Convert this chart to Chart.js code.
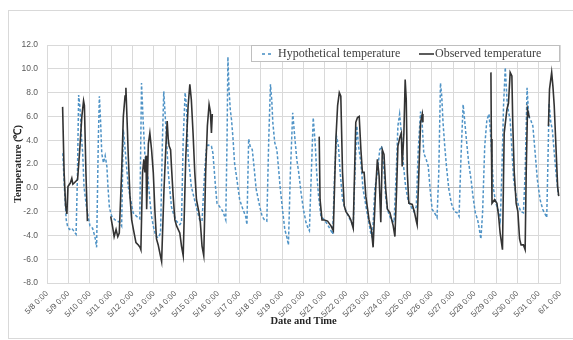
<!DOCTYPE html>
<html>
<head>
<meta charset="utf-8">
<script src="https://cdn.jsdelivr.net/npm/chart.js@4.4.1/dist/chart.umd.min.js"></script>
<style>
  html, body { margin: 0; padding: 0; background: #fff; overflow: hidden; }
  #wrap { position: relative; width: 573px; height: 340px; overflow: hidden; }
  #frame { position: absolute; left: 8px; top: 10px; width: 570px; height: 329px; border: 1px solid #d9d9d9; box-sizing: border-box; }
  canvas { position: absolute; left: 0; top: 0; }
</style>
</head>
<body>
<div id="wrap">
  <div id="frame"></div>
  <canvas id="chart" width="573" height="340"></canvas>
</div>
<script>
// x positions are days counted from 5/8 0:00
const tickLabels = ['5/8 0:00', '5/9 0:00', '5/10 0:00', '5/11 0:00', '5/12 0:00', '5/13 0:00',
    '5/14 0:00', '5/15 0:00', '5/16 0:00', '5/17 0:00', '5/18 0:00', '5/19 0:00', '5/20 0:00',
    '5/21 0:00', '5/22 0:00', '5/23 0:00', '5/24 0:00', '5/25 0:00', '5/26 0:00', '5/27 0:00',
    '5/28 0:00', '5/29 0:00', '5/30 0:00', '5/31 0:00', '6/1 0:00'];

const hypoDays = [
    0.74, 0.81, 0.90, 0.96, 1.05, 1.16, 1.24, 1.36, 1.42, 1.48, 1.54, 1.62, 1.67, 1.73, 1.86,
    2.01, 2.13, 2.24, 2.32, 2.40, 2.45, 2.51, 2.56, 2.64, 2.72, 2.80, 2.85, 2.92,
    3.03, 3.18, 3.29, 3.41, 3.49, 3.57, 3.64, 3.72, 3.80, 3.88,
    4.03, 4.19, 4.34, 4.42, 4.50, 4.58, 4.65, 4.73, 4.81, 4.89, 4.97,
    5.05, 5.12, 5.20, 5.31, 5.40, 5.46, 5.52, 5.59, 5.67, 5.82, 5.90,
    6.05, 6.21, 6.29, 6.37, 6.46, 6.52, 6.60, 6.75, 6.98,
    7.14, 7.25, 7.37, 7.45, 7.53, 7.69, 7.76, 7.88, 7.95,
    8.08, 8.23, 8.36, 8.42, 8.46, 8.51, 8.57, 8.63, 8.70, 8.77, 8.88,
    9.01, 9.16, 9.29, 9.35, 9.43, 9.50, 9.60, 9.68, 9.78, 9.94,
    10.06, 10.17, 10.28, 10.37, 10.45, 10.51, 10.56, 10.65, 10.75, 10.82, 10.90,
    11.03, 11.12, 11.21, 11.29, 11.38, 11.49, 11.57, 11.68, 11.77, 11.88, 11.99,
    12.11, 12.21, 12.27, 12.36, 12.45, 12.55, 12.61, 12.70, 12.81, 12.97,
    13.12, 13.28, 13.36, 13.45, 13.54, 13.63, 13.71, 13.82, 13.95,
    14.10, 14.21, 14.32, 14.40, 14.49, 14.57, 14.68, 14.78, 14.91,
    15.03, 15.14, 15.22, 15.33, 15.45, 15.56, 15.65, 15.76, 15.84, 15.92, 15.99,
    16.10, 16.23, 16.33, 16.41, 16.49, 16.57, 16.66, 16.77, 16.88,
    17.00, 17.16, 17.27, 17.36, 17.47, 17.55, 17.62, 17.73, 17.83, 17.93,
    18.01, 18.12, 18.24, 18.32, 18.40, 18.46, 18.52, 18.60, 18.68, 18.79, 18.91,
    19.05, 19.18, 19.27, 19.36, 19.46, 19.53, 19.61, 19.72, 19.83, 19.92,
    20.03, 20.14, 20.22, 20.29, 20.37, 20.47, 20.57, 20.67, 20.73, 20.81, 20.88, 20.99,
    21.09, 21.20, 21.27, 21.35, 21.43, 21.51, 21.58, 21.66, 21.74, 21.82, 21.94,
    22.05, 22.16, 22.28, 22.36, 22.45, 22.53, 22.62, 22.72, 22.83, 22.93,
    23.06, 23.18, 23.29, 23.37, 23.43, 23.48, 23.56, 23.63, 23.71, 23.80, 23.91
];
const hypoTemps = [
    2.9, 0.1, -2.7, -3.2, -3.5, -3.4, -3.6, -3.9, 0.7, 7.8, 6.8, 4.1, 2.9, 0.1, -1.8,
    -3.2, -3.4, -4.1, -5.0, 4.1, 7.7, 5.4, 2.9, 2.1, 2.7, 1.8, 0.1, -1.7,
    -2.4, -2.7, -2.8, -2.9, -3.2, 4.9, 3.5, 1.8, 0.1, -0.7,
    -2.1, -2.4, -2.6, 8.8, 5.5, 2.7, 1.8, 0.7, -1.0, -2.4, -3.2,
    -3.8, -4.1, -4.2, -3.8, 4.1, 8.1, 6.3, 4.1, 1.3, -1.6, -2.1,
    -2.8, -3.1, -2.9, 4.1, 8.0, 6.9, 2.7, 0.1, -1.6,
    -2.7, -2.8, 1.3, 3.2, 3.6, 3.5, 2.9, 0.1, -1.3,
    -1.6, -2.0, -2.7, 4.1, 11.0, 8.3, 6.6, 5.7, 4.1, 2.1, 0.7,
    -1.0, -1.8, -2.4, -3.1, 4.1, 3.5, 3.2, 1.8, -0.1, -1.5,
    -2.4, -2.7, -2.8, 4.1, 8.7, 7.4, 5.5, 3.8, 3.2, 1.8, 0.1,
    -2.1, -3.5, -4.1, -4.8, 1.2, 6.3, 4.6, 2.4, 1.3, -0.4, -1.8,
    -2.9, -3.4, -3.6, 1.2, 5.9, 3.5, 1.3, -0.7, -2.4, -2.7,
    -3.1, -3.6, -3.9, 1.2, 4.3, 3.5, 1.3, -1.0, -1.8,
    -2.4, -2.8, -3.2, 1.2, 5.2, 3.5, 2.1, -0.1, -1.5,
    -2.7, -3.8, -4.2, -0.1, 1.3, 3.2, 3.5, 1.5, -0.8, -1.8, -2.2,
    -2.7, -2.9, 1.2, 5.2, 6.2, 4.6, 2.1, 0.1, -1.0,
    -1.5, -2.0, -1.6, 3.2, 6.4, 5.2, 2.9, 2.4, 1.8, -0.4,
    -1.8, -2.1, -2.5, 1.2, 8.8, 7.7, 5.5, 3.5, 1.8, -0.1, -1.3,
    -2.0, -2.1, -2.4, 2.6, 7.0, 5.7, 4.1, 2.1, 0.7, -0.7,
    -2.1, -2.7, -3.5, -4.3, -2.1, 3.5, 5.7, 6.2, 4.9, 2.4, -0.1, -1.3,
    -1.8, -2.7, 1.2, 6.9, 10.1, 7.4, 6.4, 5.7, 3.2, 0.7, -0.7,
    -1.5, -2.0, -2.1, 1.2, 8.4, 6.0, 5.7, 5.2, 2.9, 0.7,
    -1.0, -1.8, -2.2, -2.5, 2.6, 7.1, 5.5, 4.9, 3.2, 1.3, -0.6
];

// null = no observation (gap in the line)
const obsDays = [
    0.73, 0.80, 0.87, 0.93, 0.98, 1.09, 1.16, 1.21, 1.27, 1.43, 1.52, 1.63, 1.71, 1.75, 1.82, 1.89, 1.95,
    2.98, 3.07, 3.14, 3.23, 3.31, 3.38, 3.49, 3.57, 3.65, 3.69, 3.76, 3.80, 3.88, 3.96,
    4.04, 4.16, 4.27, 4.35, 4.39, 4.47, 4.53, 4.58, 4.63, 4.66, 4.74, 4.81, 4.89, 4.97,
    5.05, 5.12, 5.20, 5.28, 5.36, 5.47, 5.56, 5.62, 5.67, 5.71, 5.78, 5.82, 5.90, 5.98,
    6.06, 6.21, 6.29, 6.37, 6.49, 6.60, 6.68, 6.75, 6.83, 6.91, 6.99,
    7.11, 7.17, 7.25, 7.33, 7.42, 7.50, 7.58, 7.64, 7.69, 7.73, 7.80,
    12.73, 12.77, 12.86, 12.97, 13.12, 13.28, 13.39, 13.51, 13.59, 13.67, 13.74, 13.82, 13.90, 13.98,
    14.13, 14.21, 14.32, 14.44, 14.52, 14.60, 14.68, 14.75, 14.83, 14.91,
    15.06, 15.17, 15.25, 15.37, 15.45, 15.53, 15.61, 15.68, 15.76, 15.84, 15.92,
    16.04, 16.12, 16.19, 16.27, 16.35, 16.41, 16.51, 16.57, 16.61, 16.69, 16.75, 16.80, 16.85, 16.92,
    17.08, 17.19, 17.27, 17.31, 17.39, 17.47, 17.55, 17.58, 17.65,
    20.76, 20.78, 20.81, 20.93, 21.04, 21.12, 21.19, 21.30, 21.38, 21.51, 21.58, 21.66, 21.74, 21.78,
    21.85, 21.94, 22.02, 22.10, 22.17, 22.28, 22.36, 22.41, 22.47, 22.56, 22.62,
    23.45, 23.50, 23.60, 23.66, 23.72, 23.80, 23.88, 23.93
];
const obsTemps = [
    6.8, 1.3, -1.5, -2.2, 0.1, 0.4, 0.8, 0.3, 0.4, 0.7, 2.9, 6.0, 7.3, 6.9, 1.3, -2.8, null,
    -2.4, -3.3, -4.1, -3.5, -4.1, -3.8, 1.3, 6.0, 7.7, 8.4, 4.9, 2.7, -0.7, -2.7,
    -3.5, -4.6, -4.8, -5.0, -5.2, 1.3, 2.4, 1.3, 2.7, -1.8, 3.7, 4.6, 3.2, 1.3,
    -2.1, -4.3, -4.8, -5.5, -6.2, -0.2, 3.5, 5.6, 4.1, 3.5, 3.2, 1.8, -0.7, -2.7,
    -3.2, -3.8, -4.9, -5.7, 2.6, 6.9, 8.7, 7.4, 4.6, 1.3, -1.0,
    -2.1, -2.9, -4.9, -5.7, 1.3, 5.2, 7.0, 6.4, 4.6, 6.2, null,
    4.3, -1.0, -2.7, -2.7, -2.8, -3.2, -3.6, 4.1, 6.9, 8.0, 7.7, 1.3, -1.5, -2.0,
    -2.4, -2.7, -3.4, 5.5, 5.9, 6.0, 3.2, 1.3, 1.3, -0.7,
    -2.7, -3.5, -5.0, -0.1, 2.4, 1.0, -2.9, 3.2, 2.8, -0.1, -1.8,
    -2.1, -2.7, -3.2, -4.1, -0.1, 3.5, 4.3, 4.6, 1.8, 4.6, 9.1, 7.4, 1.3, -1.3,
    -1.4, -2.1, -2.8, -3.1, 1.3, 5.5, 6.2, 5.5, null,
    9.7, 4.1, -1.3, -1.0, -1.3, -2.4, -3.8, -5.2, 4.6, 6.6, 7.1, 9.7, 9.4, 5.5,
    1.3, -1.3, -2.0, -4.3, -4.8, -4.8, -5.2, 1.3, 6.6, 5.9, null,
    5.2, 8.3, 9.7, 8.5, 6.9, 3.5, 0.1, -0.7
];

const COLORS = {
    hypo: '#4f93c6',
    obs: '#333333',
    grid: '#d9d9d9',
    zero: '#bfbfbf',
    tick: '#595959',
    title: '#262626',
};
const SERIF = '"Liberation Serif", "Times New Roman", serif';
const SANS = '"Liberation Sans", Arial, sans-serif';

const hypoPoints = hypoDays.map((d, i) => ({ x: d, y: hypoTemps[i] }));
const obsPoints = obsDays.map((d, i) => ({ x: d, y: obsTemps[i] }));

// legend box drawn inside the plot, top right
const legendBox = {
    id: 'legendBox',
    afterDraw(chart) {
        const { ctx, chartArea: a } = chart;
        const w = 309, h = 17;
        const x0 = Math.round(a.right) - w, y0 = Math.round(a.top);
        const cy = y0 + h / 2 + 0.5;
        ctx.save();
        ctx.fillStyle = '#ffffff';
        ctx.fillRect(x0, y0, w, h);
        ctx.strokeStyle = '#bfbfbf';
        ctx.lineWidth = 1;
        ctx.strokeRect(x0 + 0.5, y0 + 0.5, w - 1, h - 1);

        ctx.lineWidth = 1.6;
        ctx.strokeStyle = COLORS.hypo;
        ctx.setLineDash([3, 3]);
        ctx.beginPath();
        ctx.moveTo(x0 + 11, cy);
        ctx.lineTo(x0 + 23, cy);
        ctx.stroke();

        ctx.setLineDash([]);
        ctx.strokeStyle = COLORS.obs;
        ctx.beginPath();
        ctx.moveTo(x0 + 168, cy);
        ctx.lineTo(x0 + 183, cy);
        ctx.stroke();

        ctx.fillStyle = '#404040';
        ctx.font = '12px ' + SERIF;
        ctx.textBaseline = 'middle';
        ctx.fillText('Hypothetical temperature', x0 + 27, cy);
        ctx.fillText('Observed temperature', x0 + 184, cy);
        ctx.restore();
    }
};

new Chart(document.getElementById('chart'), {
    type: 'line',
    data: {
        datasets: [
            {
                label: 'Hypothetical temperature',
                data: hypoPoints,
                borderColor: COLORS.hypo,
                borderWidth: 1.5,
                borderDash: [3, 2],
                pointRadius: 0,
                tension: 0,
                spanGaps: false,
                order: 2,
            },
            {
                label: 'Observed temperature',
                data: obsPoints,
                borderColor: COLORS.obs,
                borderWidth: 1.6,
                pointRadius: 0,
                tension: 0,
                spanGaps: false,
                order: 1,
            },
        ]
    },
    options: {
        responsive: false,
        animation: false,
        events: [],
        layout: { padding: { left: 8, top: 45, right: 11, bottom: 8 } },
        plugins: {
            legend: { display: false },
            tooltip: { enabled: false },
        },
        scales: {
            x: {
                type: 'linear',
                min: 0,
                max: 24,
                afterFit: s => { s.height = 49; },
                afterBuildTicks: s => { s.ticks = tickLabels.map((_, i) => ({ value: i })); },
                grid: { color: COLORS.grid, drawTicks: false },
                border: { color: COLORS.grid },
                ticks: {
                    color: COLORS.tick,
                    font: { size: 8, family: SANS },
                    minRotation: 45,
                    maxRotation: 45,
                    padding: 6,
                    autoSkip: false,
                    callback: v => tickLabels[v],
                },
                title: {
                    display: true,
                    text: 'Date and Time',
                    color: COLORS.title,
                    font: { size: 10.5, weight: 'bold', family: SERIF },
                    padding: { top: 0, bottom: 4 },
                },
            },
            y: {
                min: -8,
                max: 12,
                afterFit: s => { s.width = 39; },
                grid: {
                    color: c => (c.tick && c.tick.value === 0 ? COLORS.zero : COLORS.grid),
                    drawTicks: false,
                },
                border: { color: COLORS.grid },
                ticks: {
                    stepSize: 2,
                    color: COLORS.tick,
                    font: { size: 8.5, family: SANS },
                    padding: 9,
                    callback: v => v.toFixed(1),
                },
                title: {
                    display: true,
                    text: 'Temperature (℃)',
                    color: COLORS.title,
                    font: { size: 10.5, weight: 'bold', family: SERIF },
                    padding: { top: 4, bottom: 0 },
                },
            },
        },
    },
    plugins: [legendBox],
});
</script>
</body>
</html>
